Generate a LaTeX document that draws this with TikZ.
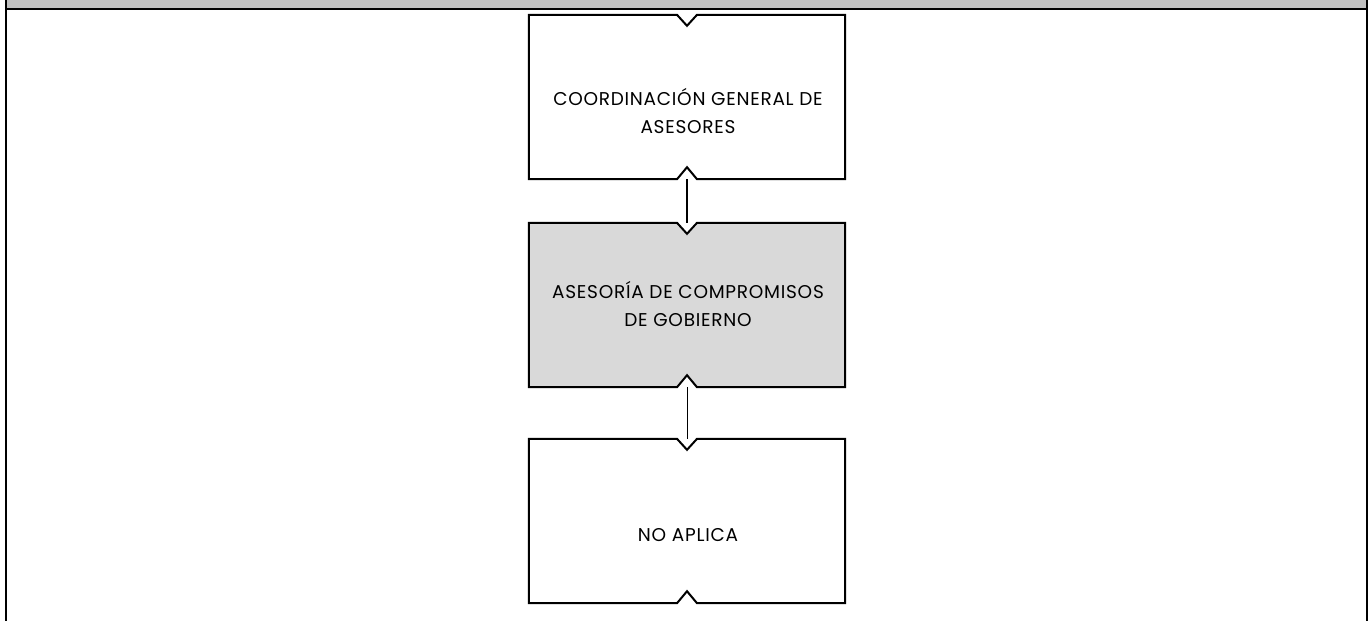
\documentclass[tikz,border=0pt]{standalone}
\usepackage{fontspec}
\setmainfont{Poppins}
\newfontfamily\boxfont[LetterSpace=4]{Poppins}
\definecolor{headgray}{HTML}{C0C0C0}
\definecolor{boxgray}{HTML}{D9D9D9}
\tikzset{
  boxarea/.style={draw=none, minimum width=316pt, minimum height=164pt, inner sep=0pt},
  boxline/.style={draw=black, line width=2pt, line join=miter},
  boxtext/.style={align=center, font=\boxfont\fontsize{18.5}{28}\selectfont, inner sep=0pt},
  frameline/.style={draw=black, line width=2pt},
  thickconn/.style={draw=black, line width=2pt},
  thinconn/.style={draw=black, line width=1pt},
}
\newcommand\notchedbox[2][]{%
  \path[boxline,#1] (#2.north west) -- ([xshift=-10pt]#2.north) -- ([yshift=-11pt]#2.north)
    -- ([xshift=10pt]#2.north) -- (#2.north east) -- (#2.south east)
    -- ([xshift=10pt]#2.south) -- ([yshift=12pt]#2.south) -- ([xshift=-10pt]#2.south)
    -- (#2.south west) -- cycle;}
\begin{document}
\begin{tikzpicture}[x=1pt,y=-1pt]
  \useasboundingbox (0,0) rectangle (1368,621);
  % header and frame
  \fill[headgray] (6,0) rectangle (1367,9);
  \draw[frameline] (6,0) -- (6,621);
  \draw[frameline] (1367,0) -- (1367,621);
  \draw[frameline] (5,9) -- (1368,9);
  % box areas
  \node[boxarea] (b1) at (687,97) {};
  \node[boxarea] (b2) at (687,305) {};
  \node[boxarea] (b3) at (687,521) {};
  \notchedbox[fill=white]{b1}
  \notchedbox[fill=boxgray]{b2}
  \notchedbox[fill=white]{b3}
  % texts
  \node[boxtext] (t1) at (688,111) {COORDINACIÓN GENERAL DE\\ASESORES};
  \node[boxtext] (t2) at (688,304) {ASESORÍA DE COMPROMISOS\\DE GOBIERNO};
  \node[boxtext] (t3) at (688,535) {NO APLICA};
  % connectors
  \draw[thickconn] (b1.south) -- (b2.north);
  \draw[thinconn] (b2.south) -- (b3.north);
\end{tikzpicture}
\end{document}
